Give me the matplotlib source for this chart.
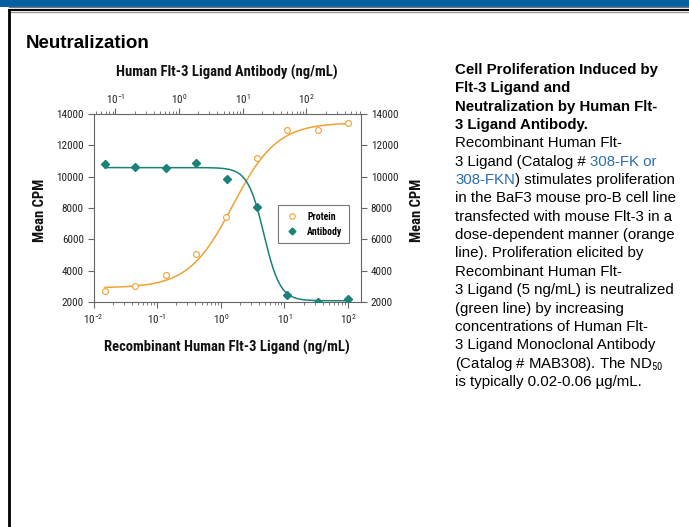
import numpy as np
import matplotlib
matplotlib.use("Agg")
import matplotlib.pyplot as plt
from matplotlib.lines import Line2D
from matplotlib.patches import Rectangle
from matplotlib import font_manager

# ---------------- data ----------------
protein_conc = [0.0152, 0.0457, 0.137, 0.412, 1.23, 3.70, 11.1, 33.3, 100.0]   # ng/mL, bottom axis
protein_cpm = [2700, 3000, 3700, 5050, 7400, 11200, 12950, 12950, 13450]
antibody_conc = [0.0686, 0.206, 0.617, 1.85, 5.56, 16.7, 50.0, 150.0, 450.0]  # ng/mL, top axis
antibody_cpm = [10800, 10600, 10570, 10880, 9830, 8080, 2430, 2020, 2210]

# 4-parameter logistic fit parameters
protein_fit = dict(bottom=2900, top=13450, ec50=1.55, hill=1.25)
antibody_fit = dict(bottom=2080, top=10580, ic50=21.5, hill=3.4)

yticks = [2000, 4000, 6000, 8000, 10000, 12000, 14000]

# ---------------- fonts ----------------
entries = font_manager.fontManager.ttflist
names = {f.name for f in entries}
NARROW = None
NARROW_STRETCH = "normal"
for cand in ["Liberation Sans Narrow", "DejaVu Sans Condensed", "Roboto Condensed",
             "Open Sans Condensed", "Noto Sans Condensed"]:
    if cand in names:
        NARROW = cand
        break
if NARROW is None:
    for f in entries:
        if f.name == "DejaVu Sans" and str(f.stretch) in ("condensed", "semi-condensed", "600", "700"):
            NARROW = "DejaVu Sans"
            NARROW_STRETCH = "condensed"
            break
scale = 1.0
if NARROW is None:
    NARROW = "Liberation Sans"
    scale = 0.88

plt.rcParams["font.family"] = [NARROW, "DejaVu Sans"]
plt.rcParams["font.stretch"] = NARROW_STRETCH
plt.rcParams["mathtext.fontset"] = "custom"
plt.rcParams["mathtext.rm"] = NARROW
plt.rcParams["mathtext.it"] = NARROW
plt.rcParams["mathtext.bf"] = NARROW + ":bold"

ORANGE = "#EFA235"
GREEN = "#1A8276"
SPINE = "#666666"
TICK_FS = 8 * scale
LABEL_FS = 10.5 * scale

W, H = 689, 527
fig = plt.figure(figsize=(W / 100, H / 100), dpi=100)

def fx(px):
    return px / W

def fy(py):
    return 1 - py / H

# header decoration
fig.patches.append(Rectangle((0, fy(6.5)), 1, 6.5 / H, transform=fig.transFigure,
                             facecolor="#0560A0", edgecolor="none"))
for ypx, col, lw in [(7.2, "#777777", 1.0), (9.8, "#000000", 1.4), (12.0, "#999999", 1.0)]:
    fig.add_artist(Line2D([fx(9), 1], [fy(ypx), fy(ypx)], color=col, lw=lw,
                          transform=fig.transFigure))
fig.add_artist(Line2D([fx(9), fx(9)], [fy(9.5), 0], color="black", lw=2.0,
                      transform=fig.transFigure))

fig.text(fx(26), fy(43), "Neutralization", family="Liberation Sans", weight="bold",
         fontsize=13.5, ha="left", va="center")

# ---------------- main axes ----------------
left, right, top, bottom = 93.5, 361, 114, 302
ax = fig.add_axes([fx(left), fy(bottom), (right - left) / W, (bottom - top) / H])
ax.set_xscale("log")
xlo, xhi = 0.01, 160.0
ax.set_xlim(xlo, xhi)
ax.set_ylim(2000, 14000)
ax.set_yticks(yticks)
ax.tick_params(axis="both", which="both", direction="out", colors=SPINE,
               labelcolor="#222222", labelsize=TICK_FS)
ax.tick_params(axis="both", which="major", length=4, width=0.8)
ax.tick_params(axis="x", which="minor", length=2, width=0.6)
ax.tick_params(axis="y", which="major", right=True, labelright=True, pad=3)
for s in ["left", "right", "bottom", "top"]:
    ax.spines[s].set_color(SPINE)
    ax.spines[s].set_linewidth(0.8)
ax.spines["top"].set_visible(False)

# protein fit curve and points
xs = np.logspace(np.log10(protein_conc[0]), np.log10(protein_conc[-1]), 300)
p = protein_fit
ys = p["bottom"] + (p["top"] - p["bottom"]) / (1 + (p["ec50"] / xs) ** p["hill"])
ax.plot(xs, ys, color=ORANGE, lw=1.1, zorder=2)
ax.plot(protein_conc, protein_cpm, linestyle="none", marker="o", ms=4.2,
        mfc="white", mec=ORANGE, mew=0.8, zorder=3)

fig.text(fx(227), fy(347), "Recombinant Human Flt-3 Ligand (ng/mL)", fontsize=LABEL_FS,
         weight="bold", ha="center", va="center", color="#111111")
fig.text(fx(40), fy(210), "Mean CPM", rotation=90, fontsize=LABEL_FS, weight="bold",
         ha="center", va="center", color="#111111")
fig.text(fx(417), fy(210), "Mean CPM", rotation=90, fontsize=LABEL_FS, weight="bold",
         ha="center", va="center", color="#111111")
fig.text(fx(227), fy(72), "Human Flt-3 Ligand Antibody (ng/mL)", fontsize=LABEL_FS,
         weight="bold", ha="center", va="center", color="#111111")

# ---------------- top axis (antibody) ----------------
factor = antibody_conc[0] / protein_conc[0]
ax2 = ax.twiny()
ax2.set_xscale("log")
ax2.set_xlim(xlo * factor, xhi * factor)
ax2.set_ylim(2000, 14000)
ax2.tick_params(axis="x", which="both", direction="out", colors=SPINE,
                labelcolor="#222222", labelsize=TICK_FS)
ax2.tick_params(axis="x", which="major", length=4, width=0.8, pad=2)
ax2.tick_params(axis="x", which="minor", length=2, width=0.6)
for s in ["left", "right", "bottom"]:
    ax2.spines[s].set_visible(False)
ax2.spines["top"].set_color(SPINE)
ax2.spines["top"].set_linewidth(0.8)

xa = np.logspace(np.log10(antibody_conc[0]), np.log10(antibody_conc[-1]), 300)
a = antibody_fit
ya = a["bottom"] + (a["top"] - a["bottom"]) / (1 + (xa / a["ic50"]) ** a["hill"])
ax2.plot(xa, ya, color=GREEN, lw=1.1, zorder=2)
ax2.plot(antibody_conc, antibody_cpm, linestyle="none", marker="D", ms=4.0,
         mfc=GREEN, mec=GREEN, zorder=3)

# legend
handles = [Line2D([], [], linestyle="none", marker="o", ms=4, mfc="white", mec=ORANGE, mew=0.8),
           Line2D([], [], linestyle="none", marker="D", ms=3.5, mfc=GREEN, mec=GREEN)]
leg = ax2.legend(handles, ["Protein", "Antibody"], loc="upper left",
                 bbox_to_anchor=((278 - left) / (right - left), (bottom - 205) / (bottom - top)),
                 fontsize=7 * scale, frameon=True, fancybox=False, edgecolor="#555555",
                 handlelength=1.5, handletextpad=0.8, borderpad=0.7, labelspacing=0.5,
                 borderaxespad=0)
leg.get_frame().set_linewidth(0.8)
for t in leg.get_texts():
    t.set_weight("bold")

# ---------------- caption text ----------------
caption = [
    ("Cell Proliferation Induced by", "bold"),
    ("Flt-3 Ligand and", "bold"),
    ("Neutralization by Human Flt-", "bold"),
    ("3 Ligand Antibody.", "bold"),
    ("Recombinant Human Flt-", "normal"),
    ("3 Ligand (Catalog # |308-FK or", "normal"),
    ("|308-FKN|) stimulates proliferation", "normal"),
    ("in the BaF3 mouse pro-B cell line", "normal"),
    ("transfected with mouse Flt-3 in a", "normal"),
    ("dose-dependent manner (orange", "normal"),
    ("line). Proliferation elicited by", "normal"),
    ("Recombinant Human Flt-", "normal"),
    ("3 Ligand (5 ng/mL) is neutralized", "normal"),
    ("(green line) by increasing", "normal"),
    ("concentrations of Human Flt-", "normal"),
    ("3 Ligand Monoclonal Antibody", "normal"),
    ("(Catalog # MAB308). The ND$_{50}$", "normal"),
    ("is typically 0.02-0.06 \u00b5g/mL.", "normal"),
]
y0, dy = 70, 18.35
x0 = 455
renderer = fig.canvas.get_renderer()
for i, (line, wt) in enumerate(caption):
    yy = fy(y0 + i * dy)
    parts = line.split("|")
    xcur = fx(x0)
    for j, part in enumerate(parts):
        if not part:
            continue
        col = "#2A6EB0" if j % 2 == 1 else "black"
        t = fig.text(xcur, yy, part, family="Liberation Sans", weight=wt, fontsize=10.8,
                     color=col, ha="left", va="center")
        bb = t.get_window_extent(renderer=renderer)
        xcur += bb.width / W

fig.savefig("out.png", dpi=100)
